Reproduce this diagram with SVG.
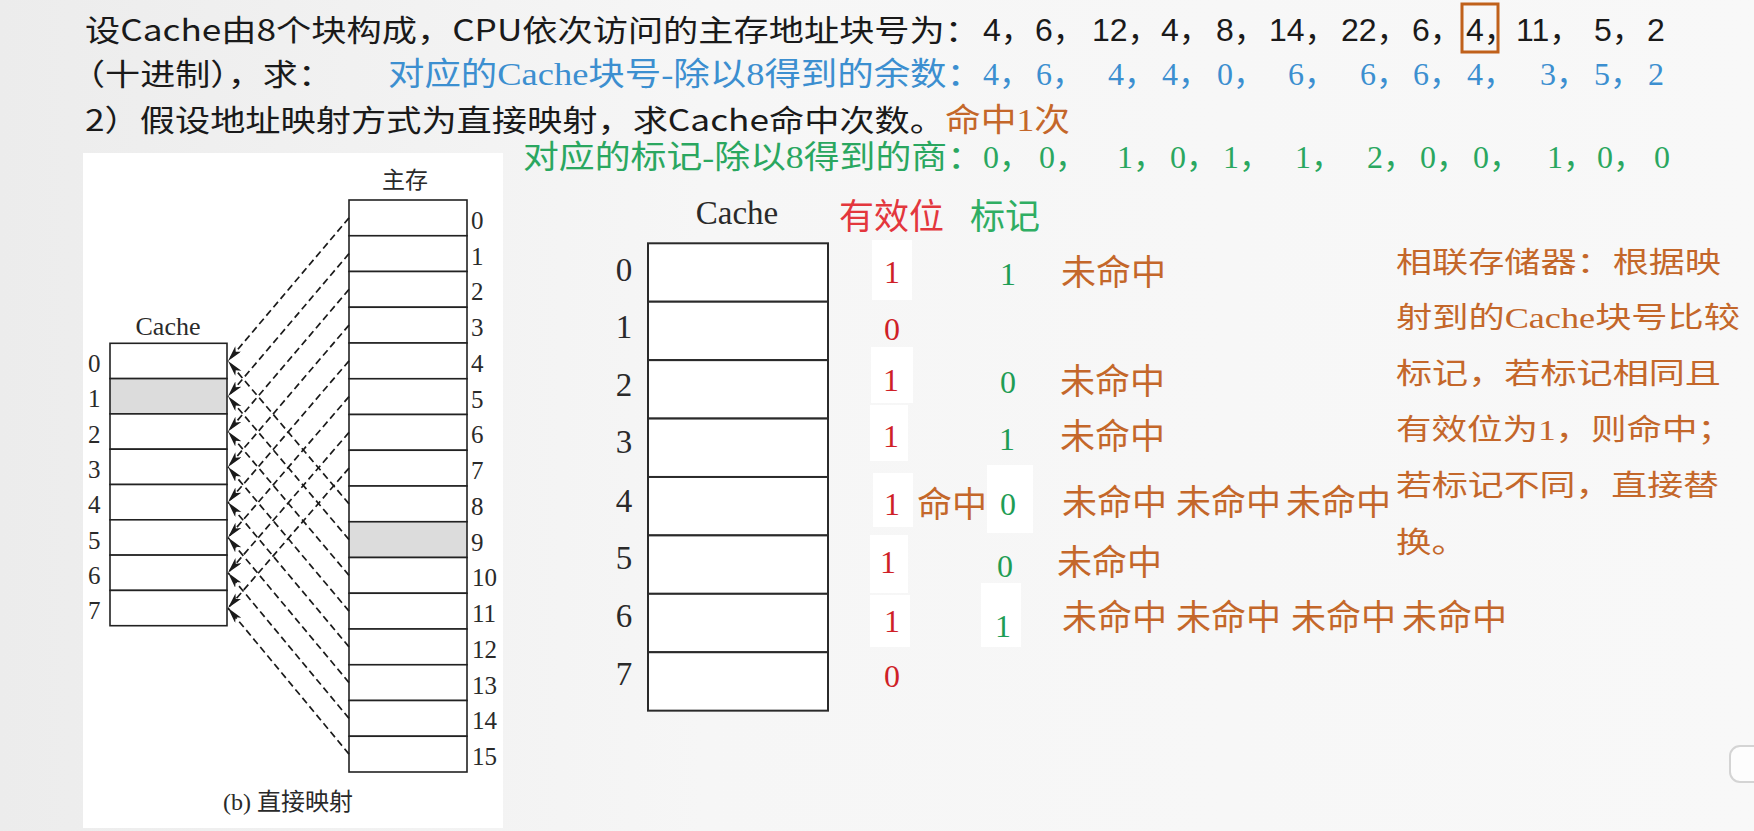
<svg xmlns="http://www.w3.org/2000/svg" width="1754" height="831" viewBox="0 0 1754 831">
<defs>
<linearGradient id="bg" x1="0" y1="0" x2="1" y2="0">
<stop offset="0" stop-color="#ececec"/>
<stop offset="0.4" stop-color="#f6f6f6"/>
<stop offset="1" stop-color="#f8f8f8"/>
</linearGradient>
<marker id="arr" markerUnits="userSpaceOnUse" markerWidth="17" markerHeight="9" refX="16" refY="4" orient="auto">
<path d="M0,0 L16,4 L0,8 L4,4 z" fill="#1a1a1a"/>
</marker>
<style>
.hd{font-family:"Noto Sans CJK SC","Liberation Sans",sans-serif;font-size:30px;fill:#1a1a1a}
.hn{font-family:"Liberation Sans","Noto Sans CJK SC",sans-serif;font-size:32px;fill:#1a1a1a}
.bl{font-family:"Liberation Serif","Noto Sans CJK SC",serif;font-size:32px;fill:#3c8fd0}
.gr{font-family:"Liberation Serif","Noto Sans CJK SC",serif;font-size:32px;fill:#2aa760}
.or{font-family:"Liberation Serif","Noto Sans CJK SC",serif;fill:#c4672a}
.mi{font-family:"Noto Sans CJK SC",sans-serif;font-size:35px;fill:#c4672a}
.fig{font-family:"Liberation Serif","Noto Sans CJK SC",serif;fill:#2a2a2a}
.cell{fill:#ffffff;stroke:#222;stroke-width:1.6}
.gray{fill:#dcdcdc;stroke:#222;stroke-width:1.6}
.tcell{fill:#ffffff;stroke:#2a2a2a;stroke-width:2}
.dash{stroke:#1a1a1a;stroke-width:1.7;stroke-dasharray:7 4;fill:none;marker-end:url(#arr)}
.vr{font-family:"Liberation Serif",serif;font-size:32px;fill:#cf1f27;text-anchor:middle}
.tg{font-family:"Liberation Serif",serif;font-size:32px;fill:#1f9d55;text-anchor:middle}
.wp{fill:#ffffff}
</style>
</defs>
<rect x="0" y="0" width="1754" height="831" fill="url(#bg)"/>

<g id="header">
<text class="hd" x="85" y="41" textLength="895" lengthAdjust="spacingAndGlyphs">设Cache由8个块构成，CPU依次访问的主存地址块号为：</text>
<text class="hn" x="983" y="41">4，</text>
<text class="hn" x="1035" y="41">6，</text>
<text class="hn" x="1092" y="41">12，</text>
<text class="hn" x="1161" y="41">4，</text>
<text class="hn" x="1216" y="41">8，</text>
<text class="hn" x="1269" y="41">14，</text>
<text class="hn" x="1341" y="41">22，</text>
<text class="hn" x="1412" y="41">6，</text>
<text class="hn" x="1466" y="41">4，</text>
<text class="hn" x="1516" y="41">11，</text>
<text class="hn" x="1594" y="41">5，</text>
<text class="hn" x="1647" y="41">2</text>
<rect x="1462" y="4" width="36" height="48" fill="none" stroke="#c0611b" stroke-width="3"/>

<text class="hd" x="70" y="85" textLength="263" lengthAdjust="spacingAndGlyphs">（十进制），求：</text>
<text class="bl" x="388" y="85" textLength="595" lengthAdjust="spacingAndGlyphs">对应的Cache块号-除以8得到的余数：</text>
<text class="bl" x="983" y="85">4，</text>
<text class="bl" x="1036" y="85">6，</text>
<text class="bl" x="1108" y="85">4，</text>
<text class="bl" x="1162" y="85">4，</text>
<text class="bl" x="1217" y="85">0，</text>
<text class="bl" x="1288" y="85">6，</text>
<text class="bl" x="1360" y="85">6，</text>
<text class="bl" x="1413" y="85">6，</text>
<text class="bl" x="1467" y="85">4，</text>
<text class="bl" x="1540" y="85">3，</text>
<text class="bl" x="1594" y="85">5，</text>
<text class="bl" x="1648" y="85">2</text>

<text class="hd" x="85" y="131" textLength="860" lengthAdjust="spacingAndGlyphs">2）假设地址映射方式为直接映射，求Cache命中次数。</text>
<text class="or" x="945" y="131" font-size="32" textLength="125" lengthAdjust="spacingAndGlyphs">命中1次</text>

<text class="gr" x="523" y="168" textLength="460" lengthAdjust="spacingAndGlyphs">对应的标记-除以8得到的商：</text>
<text class="gr" x="983" y="168">0，</text>
<text class="gr" x="1039" y="168">0，</text>
<text class="gr" x="1117" y="168">1，</text>
<text class="gr" x="1170" y="168">0，</text>
<text class="gr" x="1223" y="168">1，</text>
<text class="gr" x="1295" y="168">1，</text>
<text class="gr" x="1367" y="168">2，</text>
<text class="gr" x="1420" y="168">0，</text>
<text class="gr" x="1473" y="168">0，</text>
<text class="gr" x="1547" y="168">1，</text>
<text class="gr" x="1597" y="168">0，</text>
<text class="gr" x="1654" y="168">0</text>
</g>

<g id="figure-panel">
<rect x="83" y="153" width="420" height="675" fill="#ffffff"/>
<text class="fig" x="405" y="188" font-size="23" text-anchor="middle">主存</text>
<text class="fig" x="168" y="335" font-size="26" text-anchor="middle">Cache</text>
<text class="fig" x="288" y="810" font-size="24" text-anchor="middle">(b) 直接映射</text>
</g>

<g id="main-memory">
<rect class="cell" x="349" y="200" width="118" height="35.75"/>
<rect class="cell" x="349" y="235.75" width="118" height="35.75"/>
<rect class="cell" x="349" y="271.5" width="118" height="35.75"/>
<rect class="cell" x="349" y="307.25" width="118" height="35.75"/>
<rect class="cell" x="349" y="343" width="118" height="35.75"/>
<rect class="cell" x="349" y="378.75" width="118" height="35.75"/>
<rect class="cell" x="349" y="414.5" width="118" height="35.75"/>
<rect class="cell" x="349" y="450.25" width="118" height="35.75"/>
<rect class="cell" x="349" y="486" width="118" height="35.75"/>
<rect class="gray" x="349" y="521.75" width="118" height="35.75"/>
<rect class="cell" x="349" y="557.5" width="118" height="35.75"/>
<rect class="cell" x="349" y="593.25" width="118" height="35.75"/>
<rect class="cell" x="349" y="629" width="118" height="35.75"/>
<rect class="cell" x="349" y="664.75" width="118" height="35.75"/>
<rect class="cell" x="349" y="700.5" width="118" height="35.75"/>
<rect class="cell" x="349" y="736.25" width="118" height="35.75"/>
<g class="fig" font-size="25">
<text x="471" y="229">0</text>
<text x="471" y="264.6">1</text>
<text x="471" y="300.4">2</text>
<text x="471" y="336.1">3</text>
<text x="471" y="371.9">4</text>
<text x="471" y="407.6">5</text>
<text x="471" y="443.4">6</text>
<text x="471" y="479.1">7</text>
<text x="471" y="514.9">8</text>
<text x="471" y="550.6">9</text>
<text x="472" y="586.4">10</text>
<text x="472" y="622.1">11</text>
<text x="472" y="657.9">12</text>
<text x="472" y="693.6">13</text>
<text x="472" y="729.4">14</text>
<text x="472" y="765.1">15</text>
</g>
</g>

<g id="small-cache">
<rect class="cell" x="110" y="343.3" width="117" height="35.3"/>
<rect class="gray" x="110" y="378.6" width="117" height="35.3"/>
<rect class="cell" x="110" y="413.9" width="117" height="35.3"/>
<rect class="cell" x="110" y="449.2" width="117" height="35.3"/>
<rect class="cell" x="110" y="484.5" width="117" height="35.3"/>
<rect class="cell" x="110" y="519.8" width="117" height="35.3"/>
<rect class="cell" x="110" y="555.1" width="117" height="35.3"/>
<rect class="cell" x="110" y="590.4" width="117" height="35.3"/>
<g class="fig" font-size="25">
<text x="88" y="372">0</text>
<text x="88" y="407.3">1</text>
<text x="88" y="442.6">2</text>
<text x="88" y="477.9">3</text>
<text x="88" y="513.2">4</text>
<text x="88" y="548.5">5</text>
<text x="88" y="583.8">6</text>
<text x="88" y="619.1">7</text>
</g>
</g>

<g id="connectors">
<line class="dash" x1="349" y1="217.9" x2="228" y2="361"/>
<line class="dash" x1="349" y1="253.6" x2="228" y2="396.3"/>
<line class="dash" x1="349" y1="289.4" x2="228" y2="431.6"/>
<line class="dash" x1="349" y1="325.1" x2="228" y2="466.9"/>
<line class="dash" x1="349" y1="360.9" x2="228" y2="502.2"/>
<line class="dash" x1="349" y1="396.6" x2="228" y2="537.5"/>
<line class="dash" x1="349" y1="432.4" x2="228" y2="572.8"/>
<line class="dash" x1="349" y1="468.1" x2="228" y2="608.1"/>
<line class="dash" x1="349" y1="503.9" x2="228" y2="361"/>
<line class="dash" x1="349" y1="539.6" x2="228" y2="396.3"/>
<line class="dash" x1="349" y1="575.4" x2="228" y2="431.6"/>
<line class="dash" x1="349" y1="611.1" x2="228" y2="466.9"/>
<line class="dash" x1="349" y1="646.9" x2="228" y2="502.2"/>
<line class="dash" x1="349" y1="682.6" x2="228" y2="537.5"/>
<line class="dash" x1="349" y1="718.4" x2="228" y2="572.8"/>
<line class="dash" x1="349" y1="754.1" x2="228" y2="608.1"/>
</g>

<g id="patches">
<rect class="wp" x="872" y="240" width="40" height="60"/>
<rect class="wp" x="871" y="347" width="42" height="56"/>
<rect class="wp" x="870" y="405" width="38" height="56"/>
<rect class="wp" x="873" y="473" width="40" height="54"/>
<rect class="wp" x="987" y="465" width="46" height="68"/>
<rect class="wp" x="870" y="535" width="38" height="58"/>
<rect class="wp" x="870" y="595" width="40" height="52"/>
<rect class="wp" x="981" y="583" width="40" height="64"/>
</g>

<g id="cache-table">
<text class="fig" x="737" y="224" font-size="33" text-anchor="middle">Cache</text>
<rect class="tcell" x="648" y="243.3" width="180" height="58.42"/>
<rect class="tcell" x="648" y="301.72" width="180" height="58.42"/>
<rect class="tcell" x="648" y="360.14" width="180" height="58.42"/>
<rect class="tcell" x="648" y="418.56" width="180" height="58.42"/>
<rect class="tcell" x="648" y="476.98" width="180" height="58.42"/>
<rect class="tcell" x="648" y="535.4" width="180" height="58.42"/>
<rect class="tcell" x="648" y="593.82" width="180" height="58.42"/>
<rect class="tcell" x="648" y="652.24" width="180" height="58.42"/>
<g class="fig" font-size="33" text-anchor="middle">
<text x="624" y="281">0</text>
<text x="624" y="338">1</text>
<text x="624" y="396">2</text>
<text x="624" y="453">3</text>
<text x="624" y="512">4</text>
<text x="624" y="569">5</text>
<text x="624" y="627">6</text>
<text x="624" y="685">7</text>
</g>
</g>

<g id="valid-bits">
<text x="839" y="229" font-family="Noto Sans CJK SC, sans-serif" font-size="35" fill="#e3373d">有效位</text>
<text class="vr" x="892" y="283">1</text>
<text class="vr" x="892" y="340">0</text>
<text class="vr" x="891" y="391">1</text>
<text class="vr" x="891" y="447">1</text>
<text class="vr" x="892" y="515">1</text>
<text class="vr" x="888" y="573">1</text>
<text class="vr" x="892" y="632">1</text>
<text class="vr" x="892" y="687">0</text>
</g>

<g id="tags">
<text x="970" y="229" font-family="Noto Sans CJK SC, sans-serif" font-size="35" fill="#2fae63">标记</text>
<text class="tg" x="1008" y="285">1</text>
<text class="tg" x="1008" y="393">0</text>
<text class="tg" x="1007" y="450">1</text>
<text class="tg" x="1008" y="515">0</text>
<text class="tg" x="1005" y="577">0</text>
<text class="tg" x="1003" y="637">1</text>
</g>

<g id="hit-results">
<text class="mi" x="917" y="517">命中</text>
<text class="mi" x="1061" y="285">未命中</text>
<text class="mi" x="1060" y="394">未命中</text>
<text class="mi" x="1060" y="449">未命中</text>
<text class="mi" x="1062" y="515">未命中</text>
<text class="mi" x="1176" y="515">未命中</text>
<text class="mi" x="1286" y="515">未命中</text>
<text class="mi" x="1057" y="575">未命中</text>
<text class="mi" x="1062" y="630">未命中</text>
<text class="mi" x="1176" y="630">未命中</text>
<text class="mi" x="1291" y="630">未命中</text>
<text class="mi" x="1402" y="630">未命中</text>
</g>

<g id="note">
<text class="or" x="1396" y="273" font-size="29" textLength="325" lengthAdjust="spacingAndGlyphs">相联存储器：根据映</text>
<text class="or" x="1396" y="328" font-size="29" textLength="344" lengthAdjust="spacingAndGlyphs">射到的Cache块号比较</text>
<text class="or" x="1396" y="384" font-size="29" textLength="325" lengthAdjust="spacingAndGlyphs">标记，若标记相同且</text>
<text class="or" x="1396" y="440" font-size="29" textLength="337" lengthAdjust="spacingAndGlyphs">有效位为1，则命中；</text>
<text class="or" x="1396" y="496" font-size="29" textLength="323" lengthAdjust="spacingAndGlyphs">若标记不同，直接替</text>
<text class="or" x="1396" y="553" font-size="29" textLength="71" lengthAdjust="spacingAndGlyphs">换。</text>
</g>

<g id="corner-icon">
<rect x="1730" y="746" width="40" height="36" rx="10" fill="#fdfdfd" stroke="#d4d4d4" stroke-width="2"/>
</g>
</svg>
